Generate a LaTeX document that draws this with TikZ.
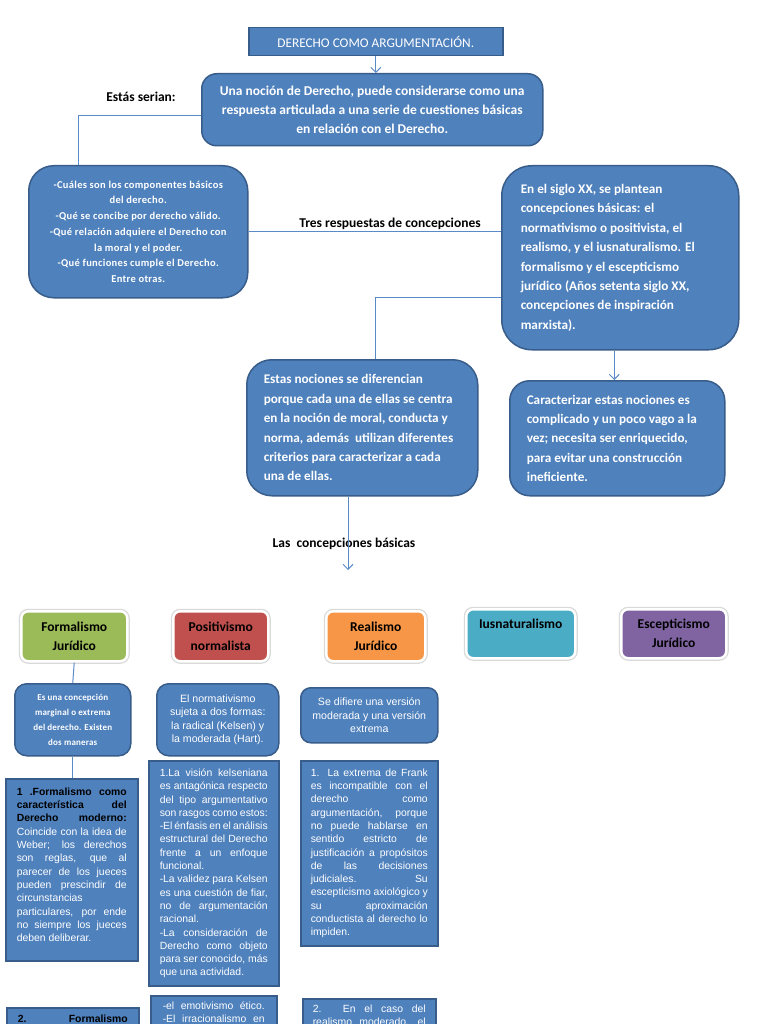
\documentclass[tikz,border=0pt]{standalone}
\usepackage{fontspec}
\setmainfont{Carlito}
\newfontfamily\arialfont{Liberation Sans}
\usetikzlibrary{arrows.meta,positioning}
\definecolor{boxblue}{RGB}{79,129,189}
\definecolor{boxedge}{RGB}{56,93,138}
\definecolor{linkblue}{RGB}{91,139,199}
\definecolor{catgreen}{RGB}{155,187,89}
\definecolor{catred}{RGB}{192,80,77}
\definecolor{catorange}{RGB}{247,150,70}
\definecolor{catteal}{RGB}{75,172,198}
\definecolor{catpurple}{RGB}{128,100,162}
% one line stretched to the full width, one line set flush left
\newcommand\jline[1]{\hbox to\hsize{#1}}
\newcommand\lline[1]{\hbox to\hsize{#1\hfil}}
\newcommand\linesbox[2]{\vbox{\hsize=#1\relax #2}}

\begin{document}
\begin{tikzpicture}[x=1pt, y=-1pt, every node/.style={inner sep=0pt},
  bluebox/.style={draw=boxedge, line width=1.5pt, fill=boxblue, text=white, anchor=north west},
  mainbox/.style={bluebox, font=\bfseries\fontsize{13.2}{19.4}\selectfont},
  smallbox/.style={bluebox, align=center},
  textbox/.style={bluebox, font=\arialfont\fontsize{10.4}{13.3}\selectfont, inner ysep=8pt},
  catbox/.style={anchor=north west, rounded corners=7pt, draw=white, line width=2.5pt, preaction={draw=black!15, line width=5pt}, align=center, font=\bfseries\fontsize{13.5}{19}\selectfont},
  lbl/.style={font=\bfseries\fontsize{13.5}{16}\selectfont},
  link/.style={draw=linkblue, line width=1pt},
  arr/.style={link, -{Straight Barb[length=5pt,width=10pt]}}]
\useasboundingbox (0,0) rectangle (768,1024);
\clip (0,0) rectangle (768,1024);
\fill[white] (0,0) rectangle (768,1024);

% top part
\node[bluebox, font=\fontsize{13.3}{16}\selectfont, minimum width=254pt, minimum height=28pt] (tit) at (248,27) {DERECHO COMO ARGUMENTACIÓN.};
\node[mainbox, font=\bfseries\fontsize{13.5}{19.4}\selectfont, rounded corners=15pt, align=center, minimum width=341pt, minimum height=72pt] (noc) at (201,73) {Una noción de Derecho, puede considerarse como una\\ respuesta articulada a una serie de cuestiones básicas\\ en relación con el Derecho.};
\node[lbl] (ser) at (141,97) {Estás serian:};
\node[smallbox, rounded corners=25pt, font=\bfseries\fontsize{10.5}{15.7}\selectfont\addfontfeature{LetterSpace=3}, minimum width=219pt, minimum height=132pt] (cue) at (28,165) {-Cuáles son los componentes básicos\\ del derecho.\\ -Qué se concibe por derecho válido.\\ -Qué relación adquiere el Derecho con\\ la moral y el poder.\\ -Qué funciones cumple el Derecho.\\ Entre otras.};
\node[mainbox, rounded corners=30pt, inner xsep=19pt, minimum height=184pt] (res) at (501,165) {\linesbox{199pt}{\lline{En el siglo XX, se plantean}
  \lline{concepciones básicas: el}
  \lline{normativismo o positivista, el}
  \lline{realismo, y el iusnaturalismo. El}
  \lline{formalismo y el escepticismo}
  \lline{jurídico (Años setenta siglo XX,}
  \lline{concepciones de inspiración}
  \lline{marxista).}}};
\node[lbl, anchor=base] (tres) at (390,228) {Tres respuestas de concepciones};
\node[mainbox, rounded corners=25pt, inner xsep=17pt, minimum height=136pt] (dif) at (246,359) {\linesbox{197pt}{\lline{Estas nociones se diferencian}
  \lline{porque cada una de ellas se centra}
  \lline{en la noción de moral, conducta y}
  \lline{norma, además~ utilizan diferentes}
  \lline{criterios para caracterizar a cada}
  \lline{una de ellas.}}};
\node[mainbox, rounded corners=20pt, inner xsep=17pt, minimum height=115pt] (car) at (509,380) {\linesbox{181pt}{\lline{Caracterizar estas nociones es}
  \lline{complicado y un poco vago a la}
  \lline{vez; necesita ser enriquecido,}
  \lline{para evitar una construcción}
  \lline{ineficiente.}}};
\node[lbl] (bas) at (344,544) {Las~ concepciones básicas};
\coordinate (basend) at (348,570);

\draw[arr] (tit.south) -- (tit.south |- noc.north);
\draw[link] ([yshift=-6pt]noc.west) -| ([xshift=50pt]cue.north west);
\draw[link] (cue.east) -- (cue.east -| res.west);
\draw[link] ([yshift=-40pt]res.west) -| ([xshift=13pt]dif.north);
\draw[arr] ([xshift=-6pt]res.south) -- ([xshift=-6pt]res.south |- car.north);
\draw[arr] (dif.south -| basend) -- (basend);

% the five conceptions
\node[catbox, fill=catgreen, minimum width=106pt, minimum height=50pt] (form) at (20,610) {Formalismo\\ Jurídico};
\node[catbox, fill=catred, minimum width=95pt, minimum height=50pt] (posi) at (172,610) {Positivismo\\ normalista};
\node[catbox, fill=catorange, minimum width=99pt, minimum height=50pt] (real) at (325,610) {Realismo\\ Jurídico};
\node[catbox, fill=catteal, minimum width=109pt, minimum height=49pt] (iusn) at (465,608) {Iusnaturalismo\\ \phantom{J}};
\node[catbox, fill=catpurple, minimum width=105pt, minimum height=49pt] (esce) at (620,608) {Escepticismo\\ Jurídico};

% details
\node[smallbox, rounded corners=12pt, font=\bfseries\fontsize{9}{15}\selectfont\addfontfeature{LetterSpace=2}, minimum width=116pt, minimum height=72pt] (forma) at (14,683) {Es una concepción\\ marginal o extrema\\ del derecho. Existen\\ dos maneras};
\node[smallbox, rounded corners=12pt, font=\arialfont\fontsize{10.6}{13.5}\selectfont, minimum width=122pt, minimum height=72pt] (posia) at (156,683) {El normativismo\\ sujeta a dos formas:\\ la radical (Kelsen) y\\ la moderada (Hart).};
\node[smallbox, rounded corners=10pt, font=\arialfont\fontsize{10.6}{13.3}\selectfont, minimum width=137pt, minimum height=55pt] (reala) at (300,687) {Se difiere una versión\\ moderada y una versión\\ extrema};

\node[textbox, inner xsep=11pt, minimum height=182pt] (formb) at (5,778) {\linesbox{110pt}{\jline{\bfseries\color{black}1 .Formalismo como}
  \jline{\bfseries\color{black}característica del}
  \jline{\bfseries\color{black}Derecho moderno:}
  \jline{Coincide con la idea de}
  \jline{Weber; los derechos}
  \jline{son reglas, que al}
  \jline{parecer de los jueces}
  \jline{pueden prescindir de}
  \lline{circunstancias}
  \jline{particulares, por ende}
  \jline{no siempre los jueces}
  \lline{deben deliberar.}
  \vspace{10pt}}};
\node[textbox, inner xsep=11pt, minimum height=225pt] (posib) at (148,760) {\linesbox{108pt}{\jline{1.La visión kelseniana}
  \jline{es antagónica respecto}
  \jline{del tipo argumentativo}
  \jline{son rasgos como estos:}
  \jline{-El énfasis en el análisis}
  \jline{estructural del Derecho}
  \jline{frente a un enfoque}
  \lline{funcional.}
  \jline{-La validez para Kelsen}
  \jline{es una cuestión de fiar,}
  \jline{no de argumentación}
  \lline{racional.}
  \jline{-La consideración de}
  \jline{Derecho como objeto}
  \jline{para ser conocido, más}
  \lline{que una actividad.}}};
\node[textbox, inner xsep=10pt, minimum height=185pt] (realb) at (300,760) {\linesbox{117pt}{\jline{1. La extrema de Frank}
  \jline{es incompatible con el}
  \jline{derecho como}
  \jline{argumentación, porque}
  \jline{no puede hablarse en}
  \jline{sentido estricto de}
  \jline{justificación a propósitos}
  \jline{de las decisiones}
  \jline{judiciales. Su}
  \jline{escepticismo axiológico y}
  \jline{su aproximación}
  \jline{conductista al derecho lo}
  \lline{impiden.}}};

\node[textbox, inner xsep=11pt, inner ysep=5pt, minimum height=40pt] (formc) at (6,1007) {\linesbox{110pt}{\jline{\bfseries\color{black}2. Formalismo}\vspace{18pt}}};
\node[textbox, inner xsep=12pt, inner ysep=6pt, minimum height=45pt] (posic) at (150,995) {\linesbox{102pt}{\jline{-el emotivismo ético.}
  \jline{-El irracionalismo en}\vspace{14pt}}};
\node[textbox, inner xsep=10pt, inner ysep=6pt, minimum height=45pt] (realc) at (302,998) {\linesbox{113pt}{\jline{2. En el caso del}
  \jline{realismo moderado, el}\vspace{14pt}}};

\draw[link] (form.south) -- (forma.north);
\draw[link] (forma.south) -- (forma.south |- formb.north);
\end{tikzpicture}
\end{document}
